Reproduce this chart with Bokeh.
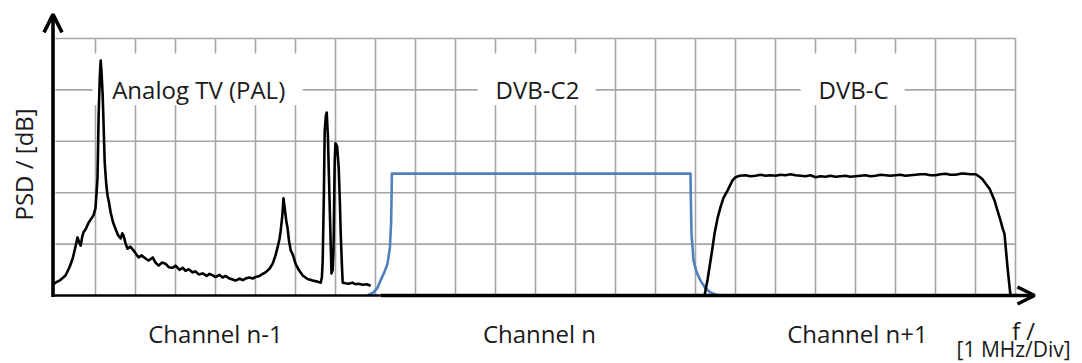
from bokeh.plotting import figure
from bokeh.models import Range1d, Arrow, OpenHead
from bokeh.core.properties import value
from bokeh.embed import file_html
from bokeh.resources import INLINE
import math

# ---------------- data (x in MHz divisions, y in dB divisions) ----------------
analog_x = [-0.05, 0.0, 0.12, 0.25, 0.35, 0.43, 0.50, 0.55, 0.60, 0.63, 0.67, 0.70, 0.76, 0.83, 0.90, 0.95,
            1.00, 1.05, 1.08, 1.11, 1.13, 1.15, 1.18, 1.23, 1.27, 1.30, 1.34, 1.38, 1.44, 1.50, 1.56, 1.63,
            1.67, 1.70, 1.75, 1.80, 1.87, 1.95, 2.02, 2.08, 2.15, 2.25, 2.33, 2.43, 2.50, 2.58, 2.66, 2.75,
            2.83, 2.93, 3.00, 3.10, 3.18, 3.25, 3.33, 3.43, 3.50, 3.58, 3.68, 3.78, 3.85, 3.93, 4.00, 4.10,
            4.18, 4.25, 4.35, 4.43, 4.50, 4.60, 4.68, 4.75, 4.85, 4.93, 5.00, 5.10, 5.18, 5.25, 5.35, 5.43,
            5.50, 5.55, 5.60, 5.63, 5.67, 5.70, 5.73, 5.77, 5.80, 5.84, 5.88, 5.94, 6.00, 6.08, 6.18, 6.30,
            6.43, 6.55, 6.63, 6.66, 6.68, 6.71, 6.73, 6.76, 6.78, 6.81, 6.83, 6.87, 6.90, 6.93, 6.95, 6.98,
            7.00, 7.04, 7.08, 7.11, 7.13, 7.16, 7.18, 7.25, 7.33, 7.42, 7.50, 7.58, 7.68, 7.78, 7.88]
analog_y = [0.22, 0.25, 0.30, 0.39, 0.55, 0.72, 0.95, 1.13, 1.02, 0.97, 1.15, 1.23, 1.30, 1.42, 1.50, 1.56,
            1.70, 2.28, 3.56, 4.30, 4.57, 4.35, 3.89, 2.59, 2.15, 1.95, 1.80, 1.61, 1.42, 1.30, 1.18, 1.11,
            1.21, 1.17, 1.02, 0.91, 0.95, 0.88, 0.80, 0.74, 0.78, 0.72, 0.68, 0.74, 0.64, 0.58, 0.64, 0.62,
            0.55, 0.54, 0.58, 0.50, 0.54, 0.48, 0.51, 0.45, 0.47, 0.41, 0.43, 0.38, 0.42, 0.39, 0.36, 0.40,
            0.35, 0.38, 0.33, 0.31, 0.29, 0.33, 0.30, 0.33, 0.35, 0.33, 0.36, 0.38, 0.42, 0.45, 0.52, 0.62,
            0.78, 0.93, 1.10, 1.26, 1.55, 1.89, 1.70, 1.45, 1.32, 1.05, 0.88, 0.78, 0.62, 0.50, 0.39, 0.32,
            0.29, 0.27, 0.25, 0.35, 0.68, 2.00, 3.21, 3.50, 3.56, 3.10, 2.49, 1.30, 0.43, 0.50, 0.88, 2.60,
            2.96, 2.90, 2.49, 1.80, 1.21, 0.60, 0.25, 0.24, 0.23, 0.25, 0.22, 0.23, 0.21, 0.22, 0.19]

c2_x = [7.80, 7.95, 8.05, 8.125, 8.22, 8.30, 8.36, 8.39, 8.40, 8.41,
        15.875, 15.885, 15.90, 15.93, 15.95, 16.03, 16.125, 16.25, 16.375, 16.50, 16.625]
c2_y = [0.00, 0.06, 0.15, 0.29, 0.45, 0.62, 0.93, 1.40, 1.85, 2.37,
        2.37, 1.85, 1.20, 0.90, 0.68, 0.45, 0.29, 0.14, 0.06, 0.02, 0.00]

c_x = [16.225, 16.30, 16.35, 16.42, 16.475, 16.55, 16.625, 16.70, 16.80, 16.925, 17.00, 17.10,
       17.25, 17.375, 17.50, 17.625, 17.75, 17.875, 18.00, 18.125, 18.25, 18.375, 18.50, 18.625,
       18.75, 18.875, 19.00, 19.125, 19.25, 19.375, 19.50, 19.625, 19.75, 19.875, 20.00, 20.125,
       20.25, 20.375, 20.50, 20.625, 20.75, 20.875, 21.00, 21.125, 21.25, 21.375, 21.50, 21.625,
       21.75, 21.875, 22.00, 22.125, 22.25, 22.375, 22.50, 22.625, 22.75, 22.875, 23.00,
       23.10, 23.175, 23.27, 23.35, 23.475, 23.55, 23.625, 23.68, 23.725, 23.80, 23.84, 23.875]
c_y = [0.00, 0.30, 0.55, 0.90, 1.20, 1.50, 1.72, 1.90, 2.04, 2.24, 2.30, 2.33,
       2.34, 2.32, 2.33, 2.35, 2.33, 2.34, 2.33, 2.35, 2.34, 2.36, 2.34, 2.33,
       2.32, 2.34, 2.30, 2.32, 2.31, 2.33, 2.31, 2.32, 2.33, 2.31, 2.32, 2.33,
       2.34, 2.32, 2.33, 2.35, 2.34, 2.33, 2.34, 2.35, 2.33, 2.34, 2.35, 2.36,
       2.36, 2.34, 2.34, 2.36, 2.37, 2.35, 2.35, 2.37, 2.37, 2.36, 2.36,
       2.31, 2.26, 2.16, 2.08, 1.85, 1.65, 1.46, 1.30, 1.20, 0.55, 0.25, 0.00]

grid_x = list(range(1, 25))
grid_y = list(range(1, 6))

signal_labels = ["Analog TV (PAL)", "DVB-C2", "DVB-C"]
signal_label_x = [3.58, 12.05, 19.95]
signal_box_left = [0.93, 10.55, 18.63]
signal_box_right = [6.18, 13.50, 21.23]

channel_labels = ["Channel n-1", "Channel n", "Channel n+1"]
channel_label_x = [4.0, 12.1, 20.05]

# ---------------- figure ----------------
FONT = value("Open Sans")
FS = "24px"
TXT = "#1a1a1a"
p = figure(width=1082, height=363, x_range=Range1d(-1.375, 25.675), y_range=Range1d(-1.323, 5.739),
           x_axis_type=None, y_axis_type=None, toolbar_location=None, output_backend="svg",
           min_border=0)
p.outline_line_color = None
p.grid.visible = False
p.background_fill_color = "white"
p.border_fill_color = "white"

GRID = "#a6a6a6"
# grid lines
p.segment(x0=grid_x, y0=[0] * len(grid_x), x1=grid_x, y1=[5] * len(grid_x), line_color=GRID, line_width=1.6)
p.segment(x0=[0] * len(grid_y), y0=grid_y, x1=[24] * len(grid_y), y1=grid_y, line_color=GRID, line_width=1.6)

# white boxes behind signal labels
p.quad(left=signal_box_left, right=signal_box_right, bottom=3.70, top=4.71,
       fill_color="white", line_color=None)
p.text(x=signal_label_x, y=[4.01] * 3, text=signal_labels, text_font=FONT, text_font_size=FS,
       text_color=TXT, text_align="center", text_baseline="alphabetic")

# curves
p.line(analog_x, analog_y, line_color="black", line_width=2.6, line_join="round")
p.line(c2_x, c2_y, line_color="#4f81bd", line_width=2.6, line_join="round")
p.line(c_x, c_y, line_color="black", line_width=2.6, line_join="round")

# axes
p.segment(x0=[-0.0625], y0=[0], x1=[8.125], y1=[0], line_color="black", line_width=2.5)
p.add_layout(Arrow(x_start=8.125, y_start=0, x_end=24.475, y_end=0, line_width=3.6, line_color="black",
                   end=OpenHead(size=17, line_width=3.6, line_color="black")))
p.add_layout(Arrow(x_start=-0.0625, y_start=-0.03, x_end=-0.0625, y_end=5.47, line_width=3.6,
                   line_color="black", end=OpenHead(size=18, line_width=3.6, line_color="black")))

# axis texts
p.text(x=channel_label_x, y=[-0.74] * 3, text=channel_labels, text_font=FONT, text_font_size=FS,
       text_color=TXT, text_align="center", text_baseline="alphabetic")
p.text(x=[24.2], y=[-0.68], text=["f /"], text_font=FONT, text_font_size=FS,
       text_color=TXT, text_align="center", text_baseline="alphabetic")
p.text(x=[25.38], y=[-1.05], text=["[1 MHz/Div]"], text_font=FONT, text_font_size="21px",
       text_color=TXT, text_align="right", text_baseline="alphabetic")
p.text(x=[-0.8], y=[2.55], text=["PSD / [dB]"], text_font=FONT, text_font_size=FS,
       text_color=TXT, text_align="center", text_baseline="middle", angle=math.pi / 2)

open("out.html", "w").write(file_html(p, INLINE))
